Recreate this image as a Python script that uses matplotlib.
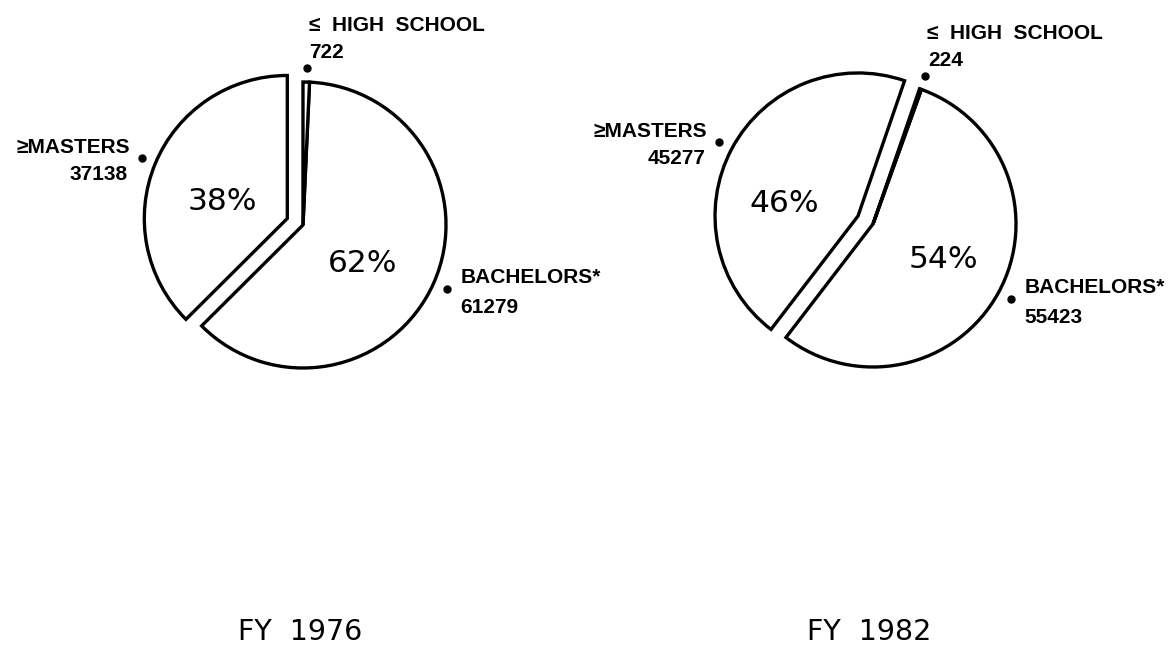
#-------------------------------------------------------------------------------
# Degree level pie charts - FY 1976 vs FY 1982
#-------------------------------------------------------------------------------
import numpy as np
import matplotlib
matplotlib.use('Agg')
import matplotlib.pyplot as plt
from matplotlib import font_manager

#-------------------------------------------------------------------------------
# Data
#-------------------------------------------------------------------------------
years = ['FY  1976', 'FY  1982']
categories = ['\u2265MASTERS', 'BACHELORS*', '\u2264  HIGH  SCHOOL']
counts_1976 = [37138, 61279, 722]
counts_1982 = [45277, 55423, 224]
pct_1976 = ['38%', '62%']
pct_1982 = ['46%', '54%']

#-------------------------------------------------------------------------------
# Label font: narrow if it is there, else normal width a bit smaller
#-------------------------------------------------------------------------------
names = {f.name for f in font_manager.fontManager.ttflist}
if 'Liberation Sans Narrow' in names:
    label_font, label_size = ['Liberation Sans Narrow', 'DejaVu Sans'], 17.5
else:
    label_font, label_size = ['Liberation Sans', 'DejaVu Sans'], 15

#-------------------------------------------------------------------------------
# Layout (axes in pixel units, y up)
#-------------------------------------------------------------------------------
W, H = 1171, 645
fig = plt.figure(figsize=(W / 100, H / 100), dpi=100)
ax = fig.add_axes([0, 0, 1, 1])

pies = [
    # counts, pct labels, year, centre, start angle, pct positions, year x
    (counts_1976, pct_1976, years[0], (303, 420), 90, [(222, 444), (363, 381)], 300),
    (counts_1982, pct_1982, years[1], (873, 421), 71, [(784, 441), (943, 386)], 869),
]
radius = 143
explode_px = [17, 0, 0]

def label(x, y, s, ha):
    ax.text(x, y, s, ha=ha, va='baseline', fontsize=label_size,
            fontweight='bold', family=label_font)

for counts, pcts, year, centre, start, pct_pos, year_x in pies:
    ax.pie(counts, startangle=start, radius=radius, center=centre,
           explode=explode_px, counterclock=True, frame=False,
           wedgeprops=dict(facecolor='white', edgecolor='black',
                           linewidth=2.4, joinstyle='miter'))

    # mid angle of every slice -> label dot just outside the rim
    fracs = np.array(counts) / np.sum(counts)
    edges = start + 360 * np.concatenate([[0], np.cumsum(fracs)])
    mids = np.radians((edges[:-1] + edges[1:]) / 2)
    for i, (name, n) in enumerate(zip(categories, counts)):
        d = radius * 1.1 + explode_px[i]
        dx = centre[0] + d * np.cos(mids[i])
        dy = centre[1] + d * np.sin(mids[i])
        ax.plot(dx, dy, 'o', color='black', markersize=5)
        if i == 0:      # masters, text to the left
            label(dx - 12, dy + 5, name, 'right')
            label(dx - 14, dy - 22, str(n), 'right')
        elif i == 1:    # bachelors, text to the right
            label(dx + 14, dy + 6, name, 'left')
            label(dx + 13, dy - 24, str(n), 'left')
        else:           # high school, text above
            label(dx + 2, dy + 37, name, 'left')
            label(dx + 3, dy + 10, str(n), 'left')

    # percent labels inside the slices
    for p, (px, py) in zip(pcts, pct_pos):
        ax.text(px, py, p, ha='center', va='center', fontsize=22.5,
                family=['DejaVu Sans'])

    # year caption
    ax.text(year_x, 5, year, ha='center', va='baseline', fontsize=20.5,
            family=['DejaVu Sans'])

ax.set_xlim(0, W)
ax.set_ylim(0, H)
ax.set_aspect('equal')
ax.axis('off')

fig.savefig('out.png', dpi=100, facecolor='white')
